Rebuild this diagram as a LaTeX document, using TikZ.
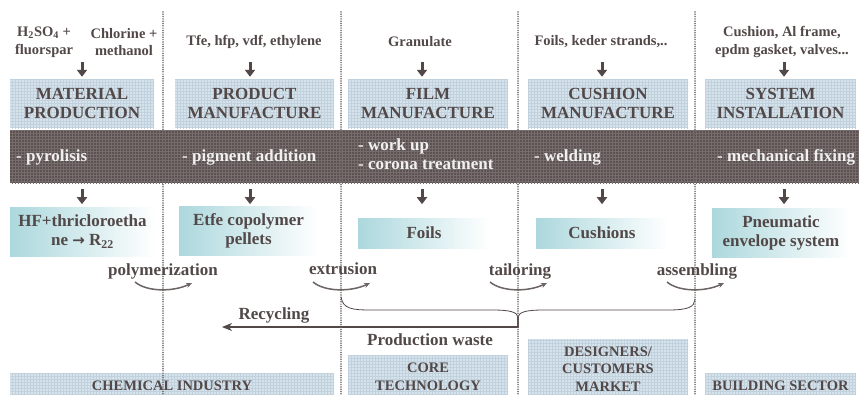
\documentclass[tikz,border=0pt]{standalone}
\usepackage{fontspec}
\setmainfont{Liberation Serif}
\newfontfamily\symfont{DejaVu Sans}
\usepackage{tikz}
\usetikzlibrary{arrows.meta,patterns}

\definecolor{ink}{RGB}{82,72,72}
\definecolor{hdrfill}{RGB}{214,227,235}
\definecolor{hdrgrid}{RGB}{193,210,222}
\definecolor{bandfill}{RGB}{92,82,82}
\definecolor{bandgrid}{RGB}{118,108,108}
\definecolor{tealfill}{RGB}{172,216,221}
\definecolor{sepdot}{RGB}{112,102,102}

\begin{document}
\begin{tikzpicture}[x=1pt, y=-1pt, lbl/.style={text=ink, inner sep=0, align=center, font=\fontsize{17}{19}\selectfont\bfseries}, inp/.style={lbl, font=\fontsize{14.5}{17.5}\selectfont\bfseries}, hdr/.style={lbl, fill=hdrfill, postaction={pattern=grid, pattern color=hdrgrid}, minimum height=49pt}, sect/.style={inp, fill=hdrfill, postaction={pattern=grid, pattern color=hdrgrid}}, prod/.style={lbl, left color=tealfill, middle color=tealfill!75!white, right color=white}, band/.style={fill=bandfill, postaction={pattern=grid, pattern color=bandgrid}, inner sep=0}, bandtxt/.style={lbl, text=white!92!ink, align=left, anchor=west}, flow/.style={draw=ink, line width=3pt, -{Triangle[width=10pt,length=7pt]}}, turn/.style={draw=ink!85, line width=1.5pt, -{Stealth[length=6pt,width=5pt]}}, brc/.style={draw=ink, line width=0.8pt}, back/.style={draw=ink, line width=1.1pt, -{Stealth[length=10pt,width=8pt,inset=3pt]}}, sep/.style={draw=sepdot, line width=1.7pt, line cap=round, dash pattern=on 0pt off 2.3pt}]
            \useasboundingbox (0,0) rectangle (859,394);
            % inputs
            \node[inp] (in1) at (44,42) {H\textsubscript{2}SO\textsubscript{4} +\\fluorspar};
            \node[inp] (in2) at (124,42) {Chlorine +\\methanol};
            \node[inp] (in3) at (254,42) {Tfe, hfp, vdf, ethylene};
            \node[inp] (in4) at (420,42) {Granulate};
            \node[inp] (in5) at (601,42) {Foils, keder strands,..};
            \node[inp] (in6) at (782,42) {Cushion, Al frame,\\epdm gasket, valves...};
            % stages
            \node[hdr, minimum width=144pt] (matp) at (82,103.5) {MATERIAL\\PRODUCTION};
            \node[hdr, minimum width=159pt] (prodm) at (254.5,103.5) {PRODUCT\\MANUFACTURE};
            \node[hdr, minimum width=160pt] (filmm) at (428,103.5) {FILM\\MANUFACTURE};
            \node[hdr, minimum width=160pt] (cushm) at (608,103.5) {CUSHION\\MANUFACTURE};
            \node[hdr, minimum width=151pt] (sysi) at (780.5,103.5) {SYSTEM\\INSTALLATION};
            % process band
            \node[band, minimum width=860pt, minimum height=53pt] (band) at (440,156.5) {};
            \node[bandtxt] (pyro) at (16,157) {- pyrolisis};
            \node[bandtxt] (pigm) at (182,157) {- pigment addition};
            \node[bandtxt] (work) at (358,154.5) {- work up\\- corona treatment};
            \node[bandtxt] (weld) at (534,157) {- welding};
            \node[bandtxt] (fix) at (717,157) {- mechanical fixing};
            % products
            \node[prod, minimum width=145pt, minimum height=49pt] (hf) at (82.5,231.5) {HF+thricloroetha\\ne {\symfont\bfseries\fontsize{15}{19}\selectfont →} R\textsubscript{22}};
            \node[prod, minimum width=139pt, minimum height=49pt] (etfe) at (248.5,230.5) {Etfe copolymer\\pellets};
            \node[prod, minimum width=132pt, minimum height=30pt] (foils) at (424,233) {Foils};
            \node[prod, minimum width=132pt, minimum height=30pt] (cush) at (602,233) {Cushions};
            \node[prod, minimum width=138pt, minimum height=49pt] (pneu) at (781,232.5) {Pneumatic\\envelope system};
            % sectors
            \node[sect, minimum width=324pt, minimum height=26pt] (chem) at (172,386) {CHEMICAL INDUSTRY};
            \node[sect, minimum width=160pt, minimum height=44pt] (core) at (428,377) {CORE\\TECHNOLOGY};
            \node[sect, minimum width=160pt, minimum height=60pt] (dsgn) at (608,369) {DESIGNERS/\\CUSTOMERS\\MARKET};
            \node[sect, minimum width=151pt, minimum height=26pt] (bldg) at (780.5,386) {BUILDING SECTOR};
            % edges
            \foreach \x/\b in {82/matp,250/prodm,422/filmm,602/cushm,784/sysi} {
                \draw[flow, shorten >=2pt] (\x,62) -- (\x,62 |- \b.north);
                \draw[flow, shorten <=6pt] (\x,0 |- band.south) -- ++(0,21);
            }
            % waste and recycling
            \coordinate (tip) at (518,317);
            \coordinate (rec) at (222,327);
            \draw[brc] (341,297) .. controls (343,309) and (352,310) .. (372,310) -- (492,310) .. controls (510,310) and (517,312) .. (tip) .. controls (519,312) and (526,310) .. (544,310) -- (668,310) .. controls (688,310) and (694,307) .. (695,300);
            \draw[back] (tip) |- (rec);
            \node[lbl] (recl) at (274,315) {Recycling};
            \node[lbl] (waste) at (430,340) {Production waste};
            % dividers
            \foreach \x in {163,341,518,695}
                \draw[sep] (\x,12) -- (\x,396);
            % transfers
            \node[lbl] (poly) at (163,271) {polymerization};
            \node[lbl] (extr) at (343,269) {extrusion};
            \node[lbl] (tail) at (520,271) {tailoring};
            \node[lbl] (assem) at (697,271) {assembling};
            \foreach \x in {163,341,518,695}
                \draw[turn] ({\x-28},282) .. controls ({\x-16},292) and ({\x+10},292) .. ({\x+29},283);
        \end{tikzpicture}
\end{document}
